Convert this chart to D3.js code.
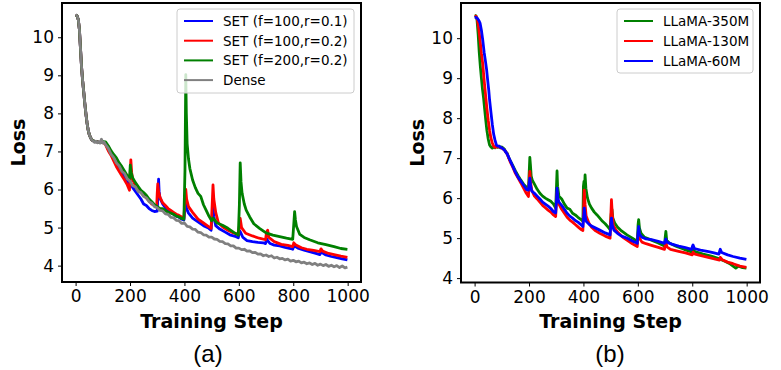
<!DOCTYPE html>
<html>
<head>
<meta charset="utf-8">
<script src="https://cdn.jsdelivr.net/npm/d3@7"></script>
<style>
  body { margin: 0; background: #fff; }
  svg { display: block; }
</style>
</head>
<body>
<div id="chart"></div>
<script>
// ---- panel (a): SET variants vs dense, [step, loss] pairs
var setF100R01 = [
  [0,10.58],[5,10.57],[10,10.46],[14,10.2],[18,9.7],[22,9.2],[26,8.85],[30,8.55],[34,8.25],[38,7.98],[42,7.75],[46,7.57],
  [50,7.45],[55,7.36],[60,7.3],[70,7.26],[80,7.25],[90,7.24],[100,7.25],[110,7.2],[120,7.06],[130,6.95],[140,6.8],[150,6.7],
  [160,6.56],[170,6.47],[180,6.33],[190,6.22],[198,6.08],[201,6.2],[204,6.12],[210,6.05],[220,5.95],[230,5.85],[240,5.75],
  [250,5.62],[260,5.58],[270,5.5],[280,5.45],[290,5.42],[300,5.43],[303,5.9],[305,6.27],[307,5.95],[310,5.78],[320,5.62],
  [330,5.52],[340,5.45],[350,5.4],[360,5.35],[370,5.3],[380,5.27],[390,5.22],[398,5.2],[402,5.5],[405,5.7],[408,5.5],
  [415,5.38],[430,5.25],[450,5.15],[470,5.05],[490,4.98],[498,4.93],[502,5.3],[505,5.52],[508,5.3],[515,5.05],[530,4.96],
  [550,4.88],[570,4.8],[590,4.76],[598,4.73],[603,4.92],[606,4.88],[615,4.74],[630,4.66],[650,4.63],[670,4.61],[690,4.6],
  [698,4.58],[703,4.7],[706,4.66],[715,4.58],[730,4.54],[750,4.52],[770,4.48],[790,4.45],[798,4.43],[803,4.53],[808,4.5],
  [820,4.45],[840,4.41],[860,4.37],[880,4.33],[898,4.29],[903,4.38],[908,4.33],[920,4.28],[940,4.24],[960,4.21],[980,4.18],[999,4.15]
];
var setF100R02 = [
  [0,10.58],[5,10.57],[10,10.46],[14,10.2],[18,9.7],[22,9.2],[26,8.85],[30,8.55],[34,8.25],[38,7.98],[42,7.75],[46,7.57],
  [50,7.45],[55,7.36],[60,7.3],[70,7.26],[80,7.25],[90,7.24],[100,7.25],[110,7.18],[120,7.02],[130,6.9],[140,6.75],[150,6.6],
  [160,6.48],[170,6.36],[180,6.25],[190,6.12],[198,5.98],[200,6.3],[203,6.78],[206,6.45],[210,6.25],[220,6.1],[230,6.0],
  [240,5.92],[250,5.85],[260,5.78],[270,5.7],[280,5.62],[290,5.58],[298,5.55],[300,5.9],[302,6.15],[305,5.95],[310,5.8],
  [320,5.65],[330,5.58],[340,5.5],[350,5.45],[360,5.4],[370,5.35],[380,5.32],[390,5.28],[398,5.25],[402,5.7],[405,6.0],
  [408,5.75],[415,5.55],[430,5.4],[450,5.22],[470,5.12],[490,5.02],[498,4.98],[502,5.6],[505,6.12],[508,5.75],[515,5.4],
  [525,5.12],[540,5.02],[560,4.93],[580,4.86],[598,4.82],[602,5.05],[605,5.24],[610,5.0],[625,4.85],[650,4.78],[675,4.72],
  [698,4.68],[702,4.88],[706,4.93],[710,4.74],[730,4.63],[756,4.56],[780,4.53],[798,4.5],[802,4.6],[808,4.55],[830,4.47],
  [850,4.43],[875,4.4],[898,4.37],[902,4.44],[908,4.38],[930,4.32],[950,4.29],[975,4.25],[999,4.22]
];
var setF200R02 = [
  [0,10.58],[5,10.57],[10,10.46],[14,10.2],[18,9.7],[22,9.2],[26,8.85],[30,8.55],[34,8.25],[38,7.98],[42,7.75],[46,7.57],
  [50,7.45],[55,7.36],[60,7.3],[70,7.26],[80,7.25],[90,7.24],[100,7.26],[110,7.25],[120,7.15],[130,7.02],[140,6.92],[150,6.83],
  [160,6.7],[170,6.6],[180,6.48],[190,6.36],[198,6.25],[201,6.64],[204,6.45],[210,6.3],[220,6.18],[230,6.08],[240,5.98],
  [250,5.92],[260,5.85],[270,5.75],[280,5.68],[290,5.6],[300,5.55],[310,5.5],[320,5.5],[330,5.45],[340,5.4],[350,5.38],
  [360,5.35],[370,5.3],[380,5.28],[390,5.24],[398,5.22],[402,6.5],[405,9.02],[407,8.0],[410,7.2],[415,6.8],[420,6.55],
  [430,6.25],[440,6.05],[450,5.9],[460,5.82],[470,5.6],[480,5.45],[490,5.3],[500,5.18],[505,5.25],[520,5.12],[540,5.06],
  [560,4.98],[580,4.88],[598,4.8],[602,5.6],[605,6.7],[608,6.2],[612,5.9],[620,5.62],[627,5.46],[640,5.28],[655,5.1],
  [676,4.98],[700,4.86],[725,4.8],[750,4.76],[775,4.72],[798,4.69],[802,5.1],[805,5.42],[808,5.2],[812,5.03],[824,4.82],
  [840,4.74],[860,4.68],[890,4.6],[920,4.55],[950,4.5],[975,4.45],[999,4.43]
];
var dense = [
  [0,10.58],[5,10.57],[10,10.46],[14,10.2],[18,9.7],[22,9.2],[26,8.85],[30,8.55],[34,8.25],[38,7.98],[42,7.75],[46,7.57],
  [50,7.45],[55,7.36],[60,7.3],[65,7.27],[70,7.24],[75,7.27],[80,7.23],[85,7.25],[90,7.22],[95,7.32],[100,7.22],[105,7.24],
  [110,7.18],[120,7.08],[130,6.93],[140,6.84],[150,6.7],[160,6.62],[170,6.48],[180,6.42],[190,6.28],[200,6.22],[210,6.1],
  [220,6.07],[230,5.95],[240,5.92],[250,5.82],[260,5.78],[270,5.68],[280,5.64],[290,5.55],[300,5.52],[310,5.45],[320,5.44],
  [330,5.36],[340,5.35],[350,5.27],[360,5.26],[370,5.19],[380,5.18],[390,5.11],[400,5.12],[410,5.03],[420,5.02],[430,4.96],
  [440,4.95],[450,4.88],[460,4.87],[470,4.81],[480,4.8],[490,4.75],[500,4.75],[510,4.7],[520,4.69],[530,4.64],[540,4.63],
  [550,4.58],[560,4.57],[570,4.52],[580,4.52],[590,4.46],[600,4.46],[610,4.42],[620,4.43],[630,4.38],[640,4.39],[650,4.34],
  [660,4.35],[670,4.3],[680,4.31],[690,4.26],[700,4.28],[710,4.24],[720,4.26],[730,4.2],[740,4.22],[750,4.18],[760,4.19],
  [770,4.15],[780,4.17],[790,4.12],[800,4.14],[810,4.1],[820,4.12],[830,4.07],[840,4.09],[850,4.05],[860,4.07],[870,4.03],
  [880,4.06],[890,4.01],[900,4.04],[910,4.0],[920,4.03],[930,3.98],[940,4.01],[950,3.97],[960,4.0],[970,3.95],[980,3.99],
  [990,3.94],[999,3.96]
];

// ---- panel (b): LLaMA model sizes
var llama350m = [
  [0,10.57],[5,10.56],[9,10.45],[13,10.1],[17,9.65],[21,9.3],[25,9.0],[29,8.72],[33,8.5],[37,8.22],[41,7.95],[45,7.7],
  [50,7.48],[55,7.33],[60,7.28],[65,7.25],[70,7.28],[75,7.26],[80,7.3],[85,7.27],[90,7.3],[95,7.26],[100,7.28],[105,7.25],
  [110,7.22],[115,7.15],[120,7.12],[125,7.02],[130,6.95],[140,6.82],[150,6.68],[160,6.56],[170,6.45],[180,6.35],[190,6.28],
  [198,6.22],[201,6.7],[203,7.02],[205,6.85],[208,6.55],[212,6.45],[220,6.35],[230,6.22],[240,6.12],[250,6.05],[260,6.0],
  [270,5.96],[280,5.92],[290,5.85],[298,5.75],[301,6.3],[303,6.68],[305,6.3],[310,6.05],[320,5.98],[330,5.85],[340,5.75],
  [350,5.72],[360,5.62],[370,5.58],[380,5.52],[390,5.47],[398,5.42],[400,6.3],[402,6.42],[404,6.2],[406,6.58],[409,6.25],
  [415,6.0],[422,5.85],[430,5.75],[440,5.65],[450,5.58],[460,5.5],[470,5.42],[480,5.36],[490,5.28],[498,5.21],[502,5.6],
  [505,5.72],[508,5.5],[515,5.38],[525,5.28],[540,5.18],[560,5.08],[580,5.0],[598,4.92],[601,5.35],[603,5.46],[606,5.25],
  [612,5.12],[625,5.02],[650,4.95],[675,4.88],[698,4.8],[701,5.05],[703,5.17],[706,4.95],[715,4.88],[740,4.8],[770,4.72],
  [800,4.65],[803,4.72],[810,4.66],[840,4.6],[870,4.55],[900,4.48],[920,4.42],[940,4.35],[960,4.25],[970,4.3],[985,4.26],[999,4.25]
];
var llama130m = [
  [0,10.55],[5,10.55],[10,10.48],[15,10.25],[20,9.95],[25,9.62],[30,9.35],[35,8.95],[40,8.6],[45,8.25],[50,7.95],[55,7.7],
  [60,7.5],[65,7.38],[70,7.3],[75,7.27],[80,7.28],[90,7.28],[100,7.25],[110,7.2],[120,7.1],[130,6.92],[140,6.78],[150,6.62],
  [160,6.5],[170,6.38],[180,6.25],[190,6.12],[198,6.04],[201,6.45],[203,6.67],[205,6.45],[210,6.2],[220,6.05],[230,5.98],
  [240,5.9],[250,5.82],[260,5.76],[270,5.7],[280,5.65],[290,5.58],[298,5.54],[301,5.95],[303,6.15],[305,6.0],[310,5.85],
  [320,5.72],[330,5.62],[340,5.52],[350,5.45],[360,5.4],[370,5.34],[380,5.28],[390,5.22],[398,5.19],[401,5.8],[403,6.2],
  [406,5.85],[410,5.55],[420,5.38],[430,5.27],[445,5.18],[460,5.12],[480,5.05],[498,5.0],[501,5.6],[503,5.96],[506,5.6],
  [510,5.32],[520,5.2],[530,5.12],[545,5.02],[560,4.95],[580,4.86],[598,4.79],[601,5.1],[603,5.2],[606,5.0],[615,4.9],
  [630,4.86],[650,4.82],[675,4.77],[698,4.72],[701,4.85],[703,4.9],[707,4.78],[720,4.72],[750,4.67],[775,4.63],[800,4.58],
  [803,4.65],[810,4.6],[840,4.55],[870,4.5],[900,4.45],[903,4.52],[910,4.46],[930,4.4],[950,4.36],[975,4.3],[999,4.27]
];
var llama60m = [
  [0,10.52],[5,10.52],[10,10.5],[15,10.45],[20,10.38],[25,10.2],[30,9.95],[35,9.65],[40,9.42],[44,9.22],[48,8.95],[52,8.7],
  [55,8.46],[60,8.15],[65,7.85],[70,7.6],[75,7.45],[80,7.33],[85,7.3],[90,7.3],[95,7.27],[100,7.26],[110,7.2],[120,7.1],
  [130,6.95],[140,6.8],[150,6.65],[160,6.52],[170,6.42],[180,6.32],[190,6.22],[198,6.2],[201,6.4],[203,6.5],[206,6.3],
  [210,6.18],[220,6.12],[230,6.05],[240,5.98],[250,5.9],[260,5.85],[270,5.8],[280,5.74],[290,5.66],[298,5.63],[301,5.95],
  [303,6.25],[306,6.0],[310,5.9],[320,5.82],[330,5.72],[340,5.62],[350,5.55],[360,5.5],[370,5.44],[380,5.4],[390,5.34],
  [398,5.29],[401,5.55],[403,5.75],[406,5.55],[410,5.42],[420,5.35],[430,5.3],[445,5.25],[460,5.2],[480,5.13],[498,5.08],
  [501,5.35],[503,5.5],[506,5.32],[512,5.2],[525,5.12],[540,5.05],[560,5.0],[580,4.93],[598,4.87],[601,5.15],[603,5.29],
  [606,5.1],[615,5.02],[630,4.98],[650,4.96],[675,4.92],[698,4.87],[701,4.95],[703,4.98],[707,4.9],[725,4.85],[750,4.8],
  [775,4.76],[798,4.72],[801,4.8],[803,4.83],[808,4.74],[830,4.7],[860,4.66],[880,4.63],[898,4.6],[901,4.68],[903,4.72],
  [908,4.64],[930,4.58],[950,4.54],[975,4.5],[999,4.47]
];

var stepTicks = [0, 200, 400, 600, 800, 1000];
var lossTicks = [4, 5, 6, 7, 8, 9, 10];
var namesA = ["SET (f=100,r=0.1)", "SET (f=100,r=0.2)", "SET (f=200,r=0.2)", "Dense"];
var namesB = ["LLaMA-350M", "LLaMA-130M", "LLaMA-60M"];

var width = 781, height = 370;
var font = "'DejaVu Sans', sans-serif";

var svg = d3.select("#chart").append("svg")
  .attr("width", width)
  .attr("height", height);

function drawPanel(p) {
  var x = d3.scaleLinear().domain([-50, 1049]).range([p.left, p.right]);
  var y = d3.scaleLinear().domain(p.yDomain).range([p.bottom, p.top]);
  var g = svg.append("g");

  g.append("clipPath").attr("id", p.id + "-clip")
    .append("rect")
    .attr("x", p.left).attr("y", p.top)
    .attr("width", p.right - p.left).attr("height", p.bottom - p.top);

  var line = d3.line()
    .x(function (d) { return x(d[0]); })
    .y(function (d) { return y(d[1]); });

  g.append("g").attr("clip-path", "url(#" + p.id + "-clip)")
    .selectAll("path")
    .data(p.series)
    .enter()
    .append("path")
    .attr("d", function (s) { return line(s.data); })
    .attr("fill", "none")
    .attr("stroke", function (s) { return s.color; })
    .attr("stroke-width", 2.8)
    .attr("stroke-linejoin", "round");

  // axes (ticks only, frame drawn separately)
  var xa = g.append("g")
    .attr("transform", "translate(0," + p.bottom + ")")
    .call(d3.axisBottom(x).tickValues(stepTicks).tickFormat(d3.format("d")).tickSize(4).tickPadding(4));
  var ya = g.append("g")
    .attr("transform", "translate(" + p.left + ",0)")
    .call(d3.axisLeft(y).tickValues(lossTicks).tickFormat(d3.format("d")).tickSize(4).tickPadding(4));
  [xa, ya].forEach(function (a) {
    a.select(".domain").remove();
    a.attr("font-size", 17).attr("font-family", font);
    a.selectAll("line").attr("stroke", "#000").attr("stroke-width", 1);
    a.selectAll("text").attr("fill", "#000");
  });

  g.append("rect")
    .attr("x", p.left).attr("y", p.top)
    .attr("width", p.right - p.left).attr("height", p.bottom - p.top)
    .attr("fill", "none").attr("stroke", "#000").attr("stroke-width", 2);

  // legend
  var lg = g.append("g");
  lg.append("rect")
    .attr("x", p.legend.x).attr("y", p.legend.y)
    .attr("width", p.legend.w).attr("height", p.legend.h)
    .attr("rx", 3)
    .attr("fill", "#fff").attr("fill-opacity", 0.8)
    .attr("stroke", "#cccccc").attr("stroke-width", 1);
  var rows = lg.selectAll("g.row")
    .data(p.legendItems)
    .enter().append("g")
    .attr("class", "row")
    .attr("transform", function (d, i) {
      return "translate(" + (p.legend.x + 7) + "," + (p.legend.y + 12 + i * p.legend.step) + ")";
    });
  rows.append("line")
    .attr("x1", 0).attr("x2", 29)
    .attr("stroke", function (d) { return d.color; })
    .attr("stroke-width", 2);
  rows.append("text")
    .attr("x", 39).attr("y", 5)
    .attr("font-size", 13.5).attr("font-family", font)
    .text(function (d) { return d.name; });

  // axis titles
  var cx = (p.left + p.right) / 2, cy = (p.top + p.bottom) / 2;
  g.append("text")
    .attr("transform", "translate(" + p.yTitleX + "," + cy + ") rotate(-90)")
    .attr("text-anchor", "middle")
    .attr("font-size", 19).attr("font-weight", "bold").attr("font-family", font)
    .text("Loss");
  g.append("text")
    .attr("x", cx).attr("y", 327.5)
    .attr("text-anchor", "middle")
    .attr("font-size", 19).attr("font-weight", "bold").attr("font-family", font)
    .text("Training Step");
  g.append("text")
    .attr("x", p.tagX).attr("y", 362)
    .attr("text-anchor", "middle")
    .attr("font-size", 24).attr("font-family", "'Liberation Sans', Arial, sans-serif")
    .text(p.tag);
}

var colorsA = ["blue", "red", "green", "gray"];
var dataA = [setF100R01, setF100R02, setF200R02, dense];
drawPanel({
  id: "a", left: 62, right: 361, top: 3, bottom: 282,
  yDomain: [3.57, 10.9],
  series: dataA.map(function (d, i) { return { data: d, color: colorsA[i] }; }),
  legend: { x: 177, y: 9, w: 177, h: 84, step: 19.7 },
  legendItems: namesA.map(function (n, i) { return { name: n, color: colorsA[i] }; }),
  yTitleX: 25, tagX: 208, tag: "(a)"
});

var colorsB = ["green", "red", "blue"];
var dataB = [llama350m, llama130m, llama60m];
drawPanel({
  id: "b", left: 461, right: 760, top: 3, bottom: 282.5,
  yDomain: [3.89, 10.88],
  series: dataB.map(function (d, i) { return { data: d, color: colorsB[i] }; }),
  legend: { x: 617, y: 9, w: 136, h: 64, step: 20 },
  legendItems: namesB.map(function (n, i) { return { name: n, color: colorsB[i] }; }),
  yTitleX: 424, tagX: 610, tag: "(b)"
});
</script>
</body>
</html>
